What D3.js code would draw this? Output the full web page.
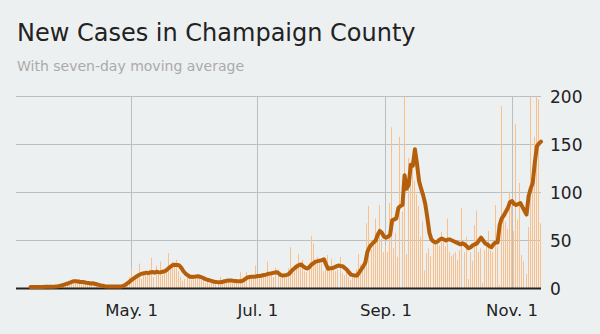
<!DOCTYPE html>
<html>
<head>
<meta charset="utf-8">
<script src="https://cdn.jsdelivr.net/npm/d3@7"></script>
<style>
  html, body { margin: 0; padding: 0; background: #edf0f1; }
  svg { display: block; font-family: "DejaVu Sans", Verdana, sans-serif; }
</style>
</head>
<body>
<svg id="chart" width="600" height="334"></svg>
<script>
// Daily new cases, one value per day starting 2020-03-13
const firstDay = "2020-03-13";
const dailyMar = [1,0,2,1,3,1,2,0,2,3,1,2,3,2,4,3,5,4,6];
const dailyApr = [7,8,5,9,6,10,7,8,5,6,7,4,5,6,3,4,2,3,2,1,3,2,2,3,1,3,4,6,8,12];
const dailyMay = [21,8,14,12,26,10,18,16,14,20,32,12,24,16,28,14,18,20,37,25,28,23,30,18,12,8,10,14,11,9,13];
const dailyJun = [14,10,12,9,11,6,8,5,7,9,6,5,12,6,7,8,10,9,6,8,7,9,17,10,12,17,11,13,12,24];
const dailyJul = [10,14,11,16,13,28,15,18,12,22,20,11,13,15,14,21,43,19,24,26,36,23,30,18,17,26,55,47,27,33,29];
const dailyAug = [26,18,20,35,24,31,22,18,20,33,16,14,17,12,9,14,16,20,36,25,22,30,68,86,41,45,73,54,87,52,38];
const dailySep = [45,38,89,168,42,58,33,158,80,235,36,136,120,131,112,98,86,54,70,19,37,42,34,51,46,47,45,59,48,44];
const dailyOct = [73,38,34,36,38,30,40,84,38,54,10,38,29,66,81,38,42,6,40,45,60,40,38,87,44,4,190,77,70,62,101];
const dailyNov = [86,60,171,72,110,35,28,15,64,215,120,158,210,197,68];

// Seven-day moving average, same days
const avgMar = [1.5,1.5,1.5,1.5,1.6,1.6,1.6,1.7,1.7,1.8,1.8,1.9,2.0,2.2,2.6,3.1,3.8,4.5,5.2];
const avgApr = [6.0,6.9,7.6,7.5,7.2,6.8,6.9,6.5,6.0,5.8,5.2,5.5,5.0,4.4,3.8,3.2,2.8,2.4,2.2,2.0,2.0,2.1,2.2,2.1,2.0,2.2,2.8,4.0,5.5,7.2];
const avgMay = [9,10.5,12,13.5,14.6,15.5,15.8,16.5,16,16.7,17.2,16.5,17.5,16.8,17,17.5,18,19.5,21.5,23,24.5,24.8,24.6,24,21.5,18,15.6,14,12.5,12,12.3];
const avgJun = [12.5,12.8,12.2,11.5,10.5,9.6,8.8,8.3,7.6,7.0,6.7,6.6,6.6,7.0,7.6,8.0,8.3,8.3,8.0,7.8,7.6,7.6,7.6,8.5,10,11.5,12,12.2,12.2,12.5];
const avgJul = [13,13,13.5,14,14.5,15.3,15.5,16,16.5,17,16,14,13.5,13.8,14.2,15,17.5,19.8,21.5,23.3,24.5,25,23,21.5,20.8,22.5,25,26.5,28,28.5,29];
const avgAug = [29.5,30.5,25,20.5,21,21.2,22,23,24,23.5,23.3,21.5,19.8,17,14.5,13.9,13.5,13.5,16.5,19.8,23,27,38,43,45.8,48,50,56,60,58,54];
const avgSep = [53,54,56,71,72,73,84,86,87,118,104,108,129,128,145,130,112,104,97,88,74,58,51,49,48,49,51,52,51,50];
const avgOct = [51,51,50,49,48,47,46,47,46,44,42,43,45,46,47,50,53,50,47,46,44,43,46,48,48,66,73,76,80,84,90];
const avgNov = [91,88,87,88,89,85,81,77,96,104,110,131,148,151,153];

// Axis ticks
const yTicks = [0, 50, 100, 150, 200];
const xTickDates = ["2020-05-01", "2020-07-01", "2020-09-01", "2020-11-01"];
const xTickLabels = ["May. 1", "Jul. 1", "Sep. 1", "Nov. 1"];

const parse = d3.utcParse("%Y-%m-%d");
const daily = [].concat(dailyMar, dailyApr, dailyMay, dailyJun, dailyJul, dailyAug, dailySep, dailyOct, dailyNov);
const avg = [].concat(avgMar, avgApr, avgMay, avgJun, avgJul, avgAug, avgSep, avgOct, avgNov);
const start = parse(firstDay);
const rows = daily.map((v, i) => ({ date: d3.utcDay.offset(start, i), cases: v, avg: avg[i] }));

const svg = d3.select("#chart");

const x = d3.scaleUtc()
  .domain([parse("2020-03-06"), parse("2020-11-15")])
  .range([16, 541]);
const y = d3.scaleLinear().domain([0, 200]).range([288.5, 96.5]);

// Title block
svg.append("text").attr("x", 17).attr("y", 41)
  .attr("font-size", 24).attr("fill", "#222")
  .text("New Cases in Champaign County");
svg.append("text").attr("x", 17).attr("y", 71)
  .attr("font-size", 14).attr("fill", "#aaa")
  .text("With seven-day moving average");

const crisp = v => Math.floor(v) + 0.5;

// Horizontal gridlines
svg.append("g").selectAll("line")
  .data(yTicks.filter(t => t > 0))
  .join("line")
  .attr("x1", 16).attr("x2", 541)
  .attr("y1", d => y(d)).attr("y2", d => y(d))
  .attr("stroke", "#bcbfc1").attr("stroke-width", 1);

// Vertical gridlines at month ticks
svg.append("g").selectAll("line")
  .data(xTickDates)
  .join("line")
  .attr("x1", d => crisp(x(parse(d)))).attr("x2", d => crisp(x(parse(d))))
  .attr("y1", y(200)).attr("y2", y(0))
  .attr("stroke", "#bcbfc1").attr("stroke-width", 1);

// Plot clip so tall days stop at the top of the scale
svg.append("defs").append("clipPath").attr("id", "plot-clip")
  .append("rect").attr("x", 0).attr("y", y(200)).attr("width", 600).attr("height", y(0) - y(200));

// Daily bars
svg.append("g").attr("clip-path", "url(#plot-clip)")
  .selectAll("rect")
  .data(rows)
  .join("rect")
  .attr("x", d => Math.round(x(d.date)) - 1)
  .attr("width", 1)
  .attr("y", d => y(d.cases))
  .attr("height", d => y(0) - y(d.cases))
  .attr("fill", "#fbc08a");

// Baseline
svg.append("line")
  .attr("x1", 16).attr("x2", 541)
  .attr("y1", y(0)).attr("y2", y(0))
  .attr("stroke", "#222").attr("stroke-width", 2);

// Moving average line
const line = d3.line().x(d => x(d.date)).y(d => y(d.avg));
svg.append("path")
  .datum(rows)
  .attr("d", line)
  .attr("fill", "none")
  .attr("stroke", "#b55f0b")
  .attr("stroke-width", 4)
  .attr("stroke-linejoin", "round")
  .attr("stroke-linecap", "round");

// Y tick labels on the right
svg.append("g").selectAll("text")
  .data(yTicks)
  .join("text")
  .attr("x", 550)
  .attr("y", d => y(d))
  .attr("dy", "0.36em")
  .attr("font-size", 17)
  .attr("fill", "#222")
  .text(d => d);

// X tick labels
svg.append("g").selectAll("text")
  .data(xTickDates)
  .join("text")
  .attr("x", (d) => x(parse(d)))
  .attr("y", 316)
  .attr("text-anchor", "middle")
  .attr("font-size", 16.5)
  .attr("fill", "#222")
  .text((d, i) => xTickLabels[i]);
</script>
</body>
</html>
